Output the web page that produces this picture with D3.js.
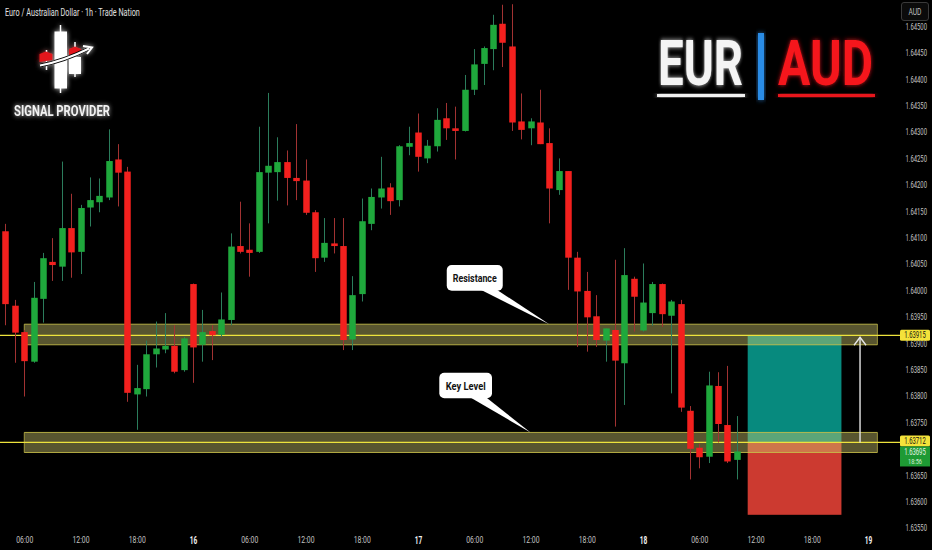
<!DOCTYPE html>
<html><head><meta charset="utf-8">
<script src="https://cdn.jsdelivr.net/npm/d3@7"></script>
<style>html,body{margin:0;padding:0;background:#000;} svg{display:block}</style>
</head><body>
<svg id="c" width="932" height="550"></svg>
<script>
// ---------------- DATA ----------------
const firstCandle = "2025-04-15T04:00:00Z"; // hourly candles, consecutive
const open = [
1.64112,1.63971,1.63921,1.63865,1.63984,1.64054,1.64045,1.64118,1.64073,1.64157,
1.64167,1.64176,1.64248,1.64225,1.63803,1.63813,1.63879,1.63888,1.63895,1.63849,
1.64012,1.63897,1.63923,1.63916,1.63944,1.64084,1.64077,1.64073,1.64223,1.64224,
1.64243,1.64213,1.64208,1.64148,1.64062,1.64089,1.64084,1.63907,1.63993,1.64126,
1.64176,1.64195,1.64171,1.64272,1.64299,1.64250,1.64273,1.64326,1.64307,1.64302,
1.64380,1.64429,1.64457,1.64505,1.64462,1.64320,1.64307,1.64318,1.64279,1.64190,
1.64226,1.64062,1.63999,1.63951,1.63905,1.63925,1.63862,1.64022,1.63924,1.63957,
1.64012,1.63952,1.63974,1.63772,1.63702,1.63685,1.63819,1.63745,1.63679];
const high = [
1.64126,1.63982,1.63925,1.64016,1.64071,1.64099,1.64244,1.64183,1.64162,1.64214,
1.64212,1.64305,1.64277,1.64234,1.63859,1.63905,1.63941,1.63957,1.63934,1.63912,
1.64013,1.63963,1.63934,1.63996,1.64108,1.64168,1.64127,1.64310,1.64374,1.64290,
1.64265,1.64315,1.64248,1.64152,1.64137,1.64137,1.64137,1.64027,1.64174,1.64193,
1.64253,1.64203,1.64275,1.64310,1.64335,1.64285,1.64345,1.64355,1.64348,1.64408,
1.64457,1.64462,1.64522,1.64541,1.64542,1.64373,1.64326,1.64380,1.64307,1.64250,
1.64226,1.64073,1.64035,1.63991,1.63928,1.64058,1.64080,1.64026,1.64051,1.64016,
1.64013,1.63982,1.63982,1.63781,1.63710,1.63846,1.63845,1.63857,1.63762];
const low = [
1.63934,1.63863,1.63799,1.63863,1.63939,1.64018,1.64018,1.64024,1.64031,1.64121,
1.64148,1.64171,1.64159,1.63789,1.63736,1.63799,1.63854,1.63881,1.63843,1.63846,
1.63825,1.63865,1.63868,1.63912,1.63934,1.64070,1.64026,1.64071,1.64127,1.64170,
1.64161,1.64171,1.64143,1.64035,1.64054,1.64070,1.63887,1.63887,1.63979,1.64114,
1.64155,1.64143,1.64159,1.64256,1.64225,1.64241,1.64263,1.64285,1.64248,1.64301,
1.64370,1.64389,1.64417,1.64423,1.64302,1.64286,1.64275,1.64277,1.64127,1.64181,
1.64001,1.63893,1.63884,1.63893,1.63865,1.63742,1.63783,1.63922,1.63922,1.63933,
1.63931,1.63805,1.63770,1.63642,1.63663,1.63673,1.63712,1.63673,1.63642];
const close = [
1.63974,1.63920,1.63866,1.63986,1.64061,1.64048,1.64118,1.64072,1.64156,1.64171,
1.64179,1.64245,1.64223,1.63806,1.63815,1.63879,1.63890,1.63895,1.63846,1.63909,
1.63892,1.63921,1.63915,1.63945,1.64083,1.64073,1.64071,1.64224,1.64236,1.64243,
1.64213,1.64207,1.64147,1.64061,1.64090,1.64084,1.63906,1.63991,1.64131,1.64177,
1.64193,1.64169,1.64273,1.64279,1.64253,1.64274,1.64323,1.64307,1.64302,1.64380,
1.64428,1.64459,1.64503,1.64469,1.64318,1.64304,1.64320,1.64277,1.64193,1.64226,
1.64062,1.63998,1.63949,1.63906,1.63928,1.63867,1.64029,1.63988,1.63977,1.64012,
1.63955,1.63979,1.63778,1.63700,1.63684,1.63820,1.63747,1.63676,1.63695];

// 1.63700 is hidden behind the price labels in the original, so it is not listed
const priceTicks = [1.6355,1.6360,1.6365,1.6375,1.6380,1.6385,1.6390,1.6395,1.6400,
                    1.6405,1.6410,1.6415,1.6420,1.6425,1.6430,1.6435,1.6440,1.6445,1.6450];
const timeTicks = ["2025-04-15T06:00Z","2025-04-15T12:00Z","2025-04-15T18:00Z","2025-04-16T00:00Z",
                   "2025-04-16T06:00Z","2025-04-16T12:00Z","2025-04-16T18:00Z","2025-04-17T00:00Z",
                   "2025-04-17T06:00Z","2025-04-17T12:00Z","2025-04-17T18:00Z","2025-04-18T00:00Z",
                   "2025-04-18T06:00Z","2025-04-18T12:00Z","2025-04-18T18:00Z","2025-04-19T00:00Z"];

const zones = [
  {name:"Resistance", low:1.63897, high:1.63936, level:1.63915, tipTime:"2025-04-17T14:00Z"},
  {name:"Key Level",  low:1.63693, high:1.63731, level:1.63712, tipTime:"2025-04-17T12:00Z"}
];
const zoneStart = "2025-04-15T06:00Z", zoneEnd = "2025-04-19T01:00Z";
const lastPrice = 1.63695, countdown = "18:56";
const position = {start:"2025-04-18T11:10Z", end:"2025-04-18T21:10Z",
                  target:1.63915, entry:1.63712, stop:1.63575, arrowTime:"2025-04-18T23:09Z"};
const title = "Euro / Australian Dollar · 1h · Trade Nation";
const currency = "AUD";

// ---------------- SCALES ----------------
const svg = d3.select("#c");
const W = 932, H = 550;
const FONT = "Roboto,'Liberation Sans',Arial,sans-serif";
const x = d3.scaleUtc().domain([new Date("2025-04-15T00:00Z"), new Date("2025-04-19T00:00Z")]).range([-32, 868]);
const y = d3.scaleLinear().domain([1.6355, 1.6405]).range([528, 264]);
const t0 = new Date(firstCandle);
const candles = open.map((o,i)=>({t:d3.utcHour.offset(t0,i), o, h:high[i], l:low[i], c:close[i]}));

// squeeze a text horizontally (condensed look) so its width equals `width`
function squeeze(sel, width){
  sel.each(function(){
    const t = d3.select(this);
    const w = this.getComputedTextLength();
    const prev = t.attr("transform") || "";
    if (w > 0) t.attr("transform", (prev + ` scale(${(width/w).toFixed(4)},1)`).trim());
  });
  return sel;
}
// a free text placed via a transform so that scaling keeps the anchor point
function label(px, py, str, size, width, opts={}){
  const t = svg.append("text").attr("transform",`translate(${px},${py})`)
    .attr("font-family",opts.family||FONT).attr("font-size",size)
    .attr("font-weight",opts.weight||400).attr("fill",opts.fill||"#ccc")
    .attr("text-anchor",opts.anchor||"start").text(str);
  if (opts.filter) t.attr("filter",opts.filter);
  return squeeze(t, width);
}

svg.append("rect").attr("width",W).attr("height",H).attr("fill","#000");

const defs = svg.append("defs");
function glow(id, sd, op){
  const f = defs.append("filter").attr("id",id).attr("x","-30%").attr("y","-30%").attr("width","160%").attr("height","160%");
  f.append("feGaussianBlur").attr("in","SourceGraphic").attr("stdDeviation",sd).attr("result","b");
  f.append("feComponentTransfer").attr("in","b").attr("result","b2")
    .append("feFuncA").attr("type","linear").attr("slope",op);
  const m = f.append("feMerge");
  m.append("feMergeNode").attr("in","b2");
  m.append("feMergeNode").attr("in","SourceGraphic");
}
glow("glowW", 2.5, 0.8);
glow("glowR", 2.5, 0.8);

// ---------------- POSITION TOOL ----------------
const px0 = x(new Date(position.start)), px1 = x(new Date(position.end));
svg.append("rect").attr("x",px0).attr("width",px1-px0)
  .attr("y",y(position.target)).attr("height",y(position.entry)-y(position.target)).attr("fill","#078a7e");
svg.append("rect").attr("x",px0).attr("width",px1-px0)
  .attr("y",y(position.entry)).attr("height",y(position.stop)-y(position.entry)).attr("fill","#cc3a30");

// ---------------- ZONES ----------------
const zx0 = x(new Date(zoneStart)), zx1 = x(new Date(zoneEnd));
zones.forEach(z=>{
  svg.append("rect").attr("x",zx0).attr("width",zx1-zx0).attr("y",y(z.high)).attr("height",y(z.low)-y(z.high))
    .attr("fill","rgba(210,203,112,0.42)");
  [z.high, z.low].forEach(v=>svg.append("line").attr("x1",zx0).attr("x2",zx1).attr("y1",y(v)).attr("y2",y(v))
    .attr("stroke","#c9c04a").attr("stroke-width",1).attr("opacity",0.85));
  svg.append("line").attr("x1",zx0).attr("x2",zx0).attr("y1",y(z.high)).attr("y2",y(z.low)).attr("stroke","#c9c04a").attr("opacity",0.7);
  svg.append("line").attr("x1",zx1).attr("x2",zx1).attr("y1",y(z.high)).attr("y2",y(z.low)).attr("stroke","#c9c04a").attr("opacity",0.7);
  svg.append("line").attr("x1",0).attr("x2",900).attr("y1",y(z.level)).attr("y2",y(z.level))
    .attr("stroke","#ede33c").attr("stroke-width",1.2);
});

// arrow
const ax = x(new Date(position.arrowTime));
svg.append("line").attr("x1",ax).attr("x2",ax).attr("y1",y(position.entry)).attr("y2",y(position.target)+2)
  .attr("stroke","#e6e6e6").attr("stroke-width",1.4);
svg.append("path").attr("d",`M${ax-6},${y(position.target)+10} L${ax},${y(position.target)+2} L${ax+6},${y(position.target)+10}`)
  .attr("fill","none").attr("stroke","#e6e6e6").attr("stroke-width",1.4);

// ---------------- CANDLES ----------------
const bw = 6.5;
const cg = svg.append("g");
cg.selectAll("line.w").data(candles).join("line").attr("class","w")
  .attr("x1",d=>Math.round(x(d.t))+0.5).attr("x2",d=>Math.round(x(d.t))+0.5)
  .attr("y1",d=>y(d.h)).attr("y2",d=>y(d.l))
  .attr("stroke",d=>d.c>=d.o?"#2b7d5c":"#a23232").attr("stroke-width",1);
cg.selectAll("rect.b").data(candles).join("rect").attr("class","b")
  .attr("x",d=>Math.round(x(d.t))+0.5-bw/2).attr("width",bw)
  .attr("y",d=>y(Math.max(d.o,d.c))).attr("height",d=>Math.max(1.5,Math.abs(y(d.o)-y(d.c))))
  .attr("fill",d=>d.c>=d.o?"#1fa83c":"#f3201e");

// ---------------- CALLOUTS ----------------
const callouts = [
  {z:zones[0], dx0:-102.5, dx1:-46.5, dy0:-59.2, dy1:-33.5, tw:44},
  {z:zones[1], dx0:-91.2, dx1:-38.5, dy0:-59.7, dy1:-34.1, tw:40}
];
callouts.forEach(c=>{
  const tx = x(new Date(c.z.tipTime)), ty = y(c.z.high);
  const bx0 = tx+c.dx0, bx1 = tx+c.dx1, by0 = ty+c.dy0, by1 = ty+c.dy1;
  svg.append("path").attr("d",`M${bx1-22},${by1-1} L${bx1-6},${by1-1} L${tx},${ty} Z`).attr("fill","#fff");
  svg.append("rect").attr("x",bx0).attr("y",by0).attr("width",bx1-bx0).attr("height",by1-by0).attr("rx",5).attr("fill","#fff");
  label((bx0+bx1)/2, (by0+by1)/2+4, c.z.name, 11.5, c.tw, {anchor:"middle", weight:700, fill:"#131313"});
});

// ---------------- AXES ----------------
const yAxis = d3.axisRight(y).tickValues(priceTicks).tickFormat(d3.format(".5f")).tickSize(0).tickPadding(0);
const ya = svg.append("g").attr("transform","translate(927,0)").call(yAxis);
ya.select(".domain").remove();
ya.selectAll("text").attr("fill","#c4c4c4").attr("font-family",FONT).attr("font-size",8.5)
  .attr("text-anchor","end").attr("x",0).attr("dy","0.34em");
squeeze(ya.selectAll("text"), 21.5);

const fmtT = d => d.getUTCHours()===0 ? String(d.getUTCDate()) : d3.utcFormat("%H:%M")(d);
const xAxis = d3.axisBottom(x).tickValues(timeTicks.map(s=>new Date(s))).tickFormat(fmtT).tickSize(0).tickPadding(0);
const xa = svg.append("g").attr("transform","translate(0,540)").call(xAxis);
xa.select(".domain").remove();
xa.selectAll("text").each(function(d){
  const day = d.getUTCHours()===0;
  const t = d3.select(this).attr("font-family",FONT).attr("y",0).attr("dy","0.35em")
    .attr("fill", day? "#f0f0f0":"#c4c4c4").attr("font-weight", day?700:400)
    .attr("font-size", day?10:8.5);
  squeeze(t, day?7.5:17);
});

// price labels
function priceLabel(v, yc, fill, tcol, h){
  svg.append("rect").attr("x",900).attr("y",yc-h/2).attr("width",30).attr("height",h).attr("rx",1.5).attr("fill",fill);
  label(915, yc+3, d3.format(".5f")(v), 8.5, 21.5, {anchor:"middle", fill:tcol});
}
priceLabel(zones[0].level, y(zones[0].level), "#f4e23a", "#111", 11);
priceLabel(zones[1].level, y(zones[1].level)-1.5, "#f4e23a", "#111", 11);
// last price
const ly0 = y(zones[1].level)+4;
svg.append("rect").attr("x",900).attr("y",ly0).attr("width",30).attr("height",20).attr("fill","#1e9a34");
label(915, ly0+8.5, d3.format(".5f")(lastPrice), 8.5, 21.5, {anchor:"middle", fill:"#e8f5e8"});
label(915, ly0+17.5, countdown, 8, 14, {anchor:"middle", fill:"#d2ead2"});

// currency box
svg.append("rect").attr("x",901.5).attr("y",2.5).attr("width",27).attr("height",18).attr("rx",2.5)
  .attr("fill","#0b0b0b").attr("stroke","#3a3a3a");
label(915, 14.5, currency, 8.5, 13, {anchor:"middle", fill:"#bdbdbd"});

// ---------------- TITLE / BRAND ----------------
label(5, 15.5, title, 10.5, 135, {fill:"#e0e0e0"});

// logo
const lg = svg.append("g").attr("filter","url(#glowW)");
lg.append("line").attr("x1",60.5).attr("x2",60.5).attr("y1",25).attr("y2",93).attr("stroke","#fff").attr("stroke-width",1.5);
lg.append("rect").attr("x",54.5).attr("y",31.5).attr("width",12.5).attr("height",57).attr("fill","#fff");
lg.append("line").attr("x1",75).attr("x2",75).attr("y1",42).attr("y2",77).attr("stroke","#fff").attr("stroke-width",1.5);
lg.append("rect").attr("x",69).attr("y",57).attr("width",12).attr("height",17).attr("fill","#fff");
lg.append("path").attr("d","M69,56 L69,49 L75,46.5 L81,49 L81,54 Z").attr("fill","#e3161b");
lg.append("line").attr("x1",46.5).attr("x2",46.5).attr("y1",50).attr("y2",70).attr("stroke","#fff").attr("stroke-width",1.5);
lg.append("path").attr("d","M39.5,62 L39.5,54 L46,51.5 L52.5,54 L52.5,60 Z").attr("fill","#e3161b");
lg.append("path").attr("d","M40,65.5 Q64,61 89,48.5").attr("fill","none").attr("stroke","#000").attr("stroke-width",4);
lg.append("path").attr("d","M40,65.5 Q64,61 89,48.5").attr("fill","none").attr("stroke","#fff").attr("stroke-width",2);
lg.append("path").attr("d","M83,46 L92,47.5 L87,54").attr("fill","none").attr("stroke","#fff").attr("stroke-width",2);
label(14, 115.5, "SIGNAL PROVIDER", 14.5, 96, {weight:700, fill:"#f2f2f2", filter:"url(#glowW)"});

// EUR | AUD
label(658, 85, "EUR", 63, 85, {weight:700, fill:"#f4f4f4", filter:"url(#glowW)"});
svg.append("rect").attr("x",657).attr("y",94).attr("width",88).attr("height",3).attr("fill","#f0f0f0").attr("filter","url(#glowW)");
svg.append("rect").attr("x",758).attr("y",33).attr("width",6).attr("height",67).attr("fill","#2b8ce6").attr("filter","url(#glowW)");
label(778, 85, "AUD", 63, 95, {weight:700, fill:"#f5141a", filter:"url(#glowR)"});
svg.append("rect").attr("x",778).attr("y",94).attr("width",97).attr("height",3).attr("fill","#e8151b").attr("filter","url(#glowR)");
</script>
</body></html>
